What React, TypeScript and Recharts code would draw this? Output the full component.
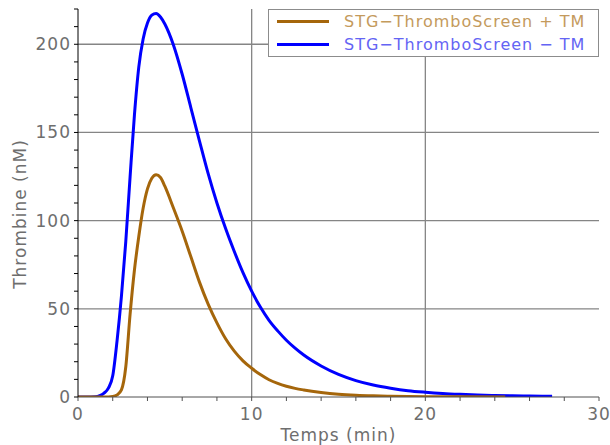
import { LineChart, Line, XAxis, YAxis, ReferenceLine, Legend, Label } from 'recharts';

// Thrombin generation curves (time in min, thrombin in nM)
const withTmTimes = [
  0, 1, 1.5, 2, 2.25, 2.5, 2.75, 3, 3.25, 3.5, 3.75, 4, 4.25, 4.5, 4.75, 5, 5.5, 6, 6.5, 7, 7.5, 8,
  8.5, 9, 9.5, 10, 10.5, 11, 11.5, 12, 12.5, 13, 14, 15, 16, 17, 18, 20, 22, 24.6,
];
const withTmValues = [
  0, 0, 0, 0.3, 1.2, 4, 17, 47, 72, 91, 107, 118, 124, 126, 124.5, 119.5, 107, 94, 79.5, 65, 52.5,
  42, 33, 26, 20.5, 16.3, 12.7, 9.8, 7.7, 6.1, 4.9, 4.0, 2.6, 1.6, 1.0, 0.65, 0.45, 0.2, 0.1, 0.05,
];

const noTmTimes = [
  0, 0.5, 1, 1.25, 1.5, 1.75, 2, 2.25, 2.5, 2.75, 3, 3.25, 3.5, 3.75, 4, 4.25, 4.5, 4.75, 5, 5.5, 6,
  6.5, 7, 7.5, 8, 8.5, 9, 9.5, 10, 10.5, 11, 11.5, 12, 12.5, 13, 14, 15, 16, 17, 18, 19, 20, 21, 22,
  23, 24, 25, 26, 27.3,
];
const noTmValues = [
  0, 0, 0.2, 0.8, 2.2, 5, 12, 32, 57, 88, 125, 160, 187, 203, 212, 216.5, 217.5, 215.5, 211.5, 199.5,
  183, 164, 145, 126.5, 110, 95.5, 82.5, 70.5, 60, 51, 43.5, 37.5, 32.2, 27.7, 23.8, 17.6, 12.8, 9.3,
  6.8, 5.0, 3.6, 2.7, 2.0, 1.5, 1.1, 0.85, 0.65, 0.5, 0.4,
];

const xTicks = [0, 2, 4, 6, 8, 10, 12, 14, 16, 18, 20, 22, 24, 26, 28, 30];
const yTicks = [0, 10, 20, 30, 40, 50, 60, 70, 80, 90, 100, 110, 120, 130, 140, 150, 160, 170, 180, 190, 200, 210, 220];
const xGrid = [10, 20];
const yGrid = [50, 100, 150, 200];

const seriesNames = ['STG\u2212ThromboScreen + TM', 'STG\u2212ThromboScreen \u2212 TM'];
const seriesColors = ['#a5660b', '#0000ff'];
const legendTextColors = ['#c49a5c', '#6464f4'];

const zip = (ts: number[], vs: number[]) => ts.map((t, i) => ({ t, v: vs[i] }));
const withTm = zip(withTmTimes, withTmValues);
const noTm = zip(noTmTimes, noTmValues);

const FONT = '"DejaVu Sans", sans-serif';
const tickText = { fill: '#6e6e6e', fontSize: 17, fontFamily: FONT, letterSpacing: 1 };

const YTitle = (props: any) => {
  const { x, y, height } = props.viewBox;
  const cx = x + 26;
  const cy = y + height / 2 + 11;
  return (
    <text
      x={cx}
      y={cy}
      transform={`rotate(-90 ${cx} ${cy})`}
      textAnchor="middle"
      fill="#6e6e6e"
      fontSize={17}
      fontFamily={FONT}
      letterSpacing={1}
    >
      Thrombine (nM)
    </text>
  );
};

const XTitle = (props: any) => {
  const { x, y, width } = props.viewBox;
  return (
    <text
      x={x + width / 2}
      y={y + 44}
      textAnchor="middle"
      fill="#6e6e6e"
      fontSize={17}
      fontFamily={FONT}
      letterSpacing={1}
    >
      Temps (min)
    </text>
  );
};

function LegendBox() {
  return (
    <div
      style={{
        position: 'relative',
        width: 331,
        height: 48,
        boxSizing: 'border-box',
        border: '1px solid #8c8c8c',
        background: '#fff',
        fontFamily: FONT,
        fontSize: 16,
        letterSpacing: 1,
      }}
    >
      {seriesNames.map((name, i) => (
        <div key={name}>
          <div
            style={{
              position: 'absolute',
              left: 8,
              top: 11 + i * 23 - 1.5,
              width: 52,
              height: 3,
              background: seriesColors[i],
            }}
          />
          <div
            style={{
              position: 'absolute',
              left: 75,
              top: 2 + i * 23,
              color: legendTextColors[i],
              whiteSpace: 'pre',
              lineHeight: '20px',
            }}
          >
            {name}
          </div>
        </div>
      ))}
    </div>
  );
}

export default function App() {
  return (
    <div style={{ position: 'absolute', left: 0, top: 0, background: '#fff' }}>
      <LineChart width={610} height={445} margin={{ top: 9, right: 11, bottom: 18, left: 0 }}>
        <XAxis
          xAxisId="x"
          type="number"
          dataKey="t"
          domain={[0, 30]}
          allowDataOverflow
          ticks={xTicks}
          tickFormatter={(v: number) => (v % 10 === 0 ? String(v) : '')}
          height={30}
          tickSize={4}
          tickMargin={7}
          stroke="#505050"
          tick={tickText}
        >
          <Label content={XTitle} />
        </XAxis>
        {/* inner halves of the bottom ticks, so they cross the axis */}
        <XAxis
          xAxisId="xIn"
          type="number"
          domain={[0, 30]}
          allowDataOverflow
          ticks={xTicks}
          orientation="bottom"
          mirror
          height={0}
          tickSize={4}
          axisLine={false}
          tick={false}
          stroke="#505050"
        />
        <XAxis
          xAxisId="xTop"
          type="number"
          domain={[0, 30]}
          allowDataOverflow
          ticks={xTicks}
          orientation="top"
          mirror
          height={0}
          tickSize={5}
          tick={false}
          stroke="#8c8c8c"
          tickLine={{ stroke: '#404040' }}
        />
        <YAxis
          yAxisId="y"
          type="number"
          domain={[0, 220]}
          allowDataOverflow
          ticks={yTicks}
          tickFormatter={(v: number) => (v % 50 === 0 ? String(v) : '')}
          width={78}
          tickSize={4}
          tickMargin={3}
          stroke="#000"
          tick={tickText}
        >
          <Label content={YTitle} />
        </YAxis>
        <YAxis
          yAxisId="yIn"
          type="number"
          domain={[0, 220]}
          allowDataOverflow
          ticks={yTicks}
          orientation="left"
          mirror
          width={0}
          tickSize={4}
          axisLine={false}
          tick={false}
          stroke="#000"
        />
        <YAxis
          yAxisId="yRight"
          type="number"
          domain={[0, 220]}
          allowDataOverflow
          ticks={yTicks}
          orientation="right"
          mirror
          width={0}
          tickSize={4}
          tick={false}
          stroke="#8c8c8c"
          tickLine={{ stroke: '#404040' }}
        />
        {xGrid.map((x) => (
          <ReferenceLine key={`gx-${x}`} x={x} xAxisId="x" yAxisId="y" stroke="#858585" strokeWidth={1.3} />
        ))}
        {yGrid.map((y) => (
          <ReferenceLine key={`gy-${y}`} y={y} xAxisId="x" yAxisId="y" stroke="#858585" strokeWidth={1.3} />
        ))}
        <Line
          xAxisId="x"
          yAxisId="y"
          data={noTm}
          dataKey="v"
          name={seriesNames[1]}
          type="monotone"
          stroke={seriesColors[1]}
          strokeWidth={3}
          dot={false}
          isAnimationActive={false}
        />
        <Line
          xAxisId="x"
          yAxisId="y"
          data={withTm}
          dataKey="v"
          name={seriesNames[0]}
          type="monotone"
          stroke={seriesColors[0]}
          strokeWidth={3}
          dot={false}
          isAnimationActive={false}
        />
        <Legend
          layout="vertical"
          align="center"
          verticalAlign="middle"
          content={() => <LegendBox />}
          wrapperStyle={{ left: 268, top: 9, width: 331, height: 48 }}
        />
      </LineChart>
    </div>
  );
}
